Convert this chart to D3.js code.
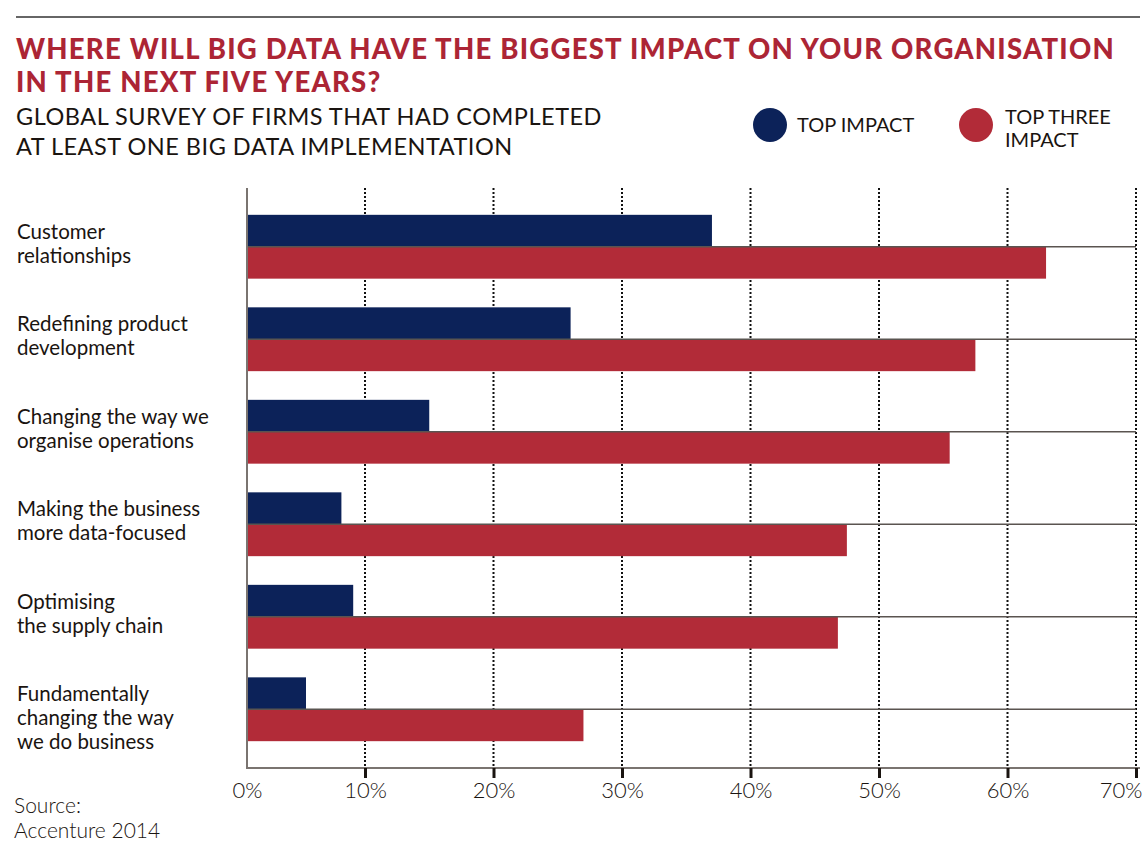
<!DOCTYPE html>
<html><head><meta charset="utf-8">
<script src="https://cdn.jsdelivr.net/npm/d3@7"></script>
<style>
html,body{margin:0;padding:0;background:#fff;}
svg{display:block;}
text{font-family:Lato,"Open Sans",sans-serif;}
</style></head>
<body>
<svg id="chart" width="1143" height="851"></svg>
<script>
const categories = [
  ["Customer", "relationships"],
  ["Redefining product", "development"],
  ["Changing the way we", "organise operations"],
  ["Making the business", "more data-focused"],
  ["Optimising", "the supply chain"],
  ["Fundamentally", "changing the way", "we do business"]
];
const topImpact = [37, 26, 15, 8, 9, 5];
const topThreeImpact = [63, 57.5, 55.5, 47.5, 46.8, 27];
const tickValues = [0, 10, 20, 30, 40, 50, 60, 70];
const seriesNames = ["TOP IMPACT", ["TOP THREE", "IMPACT"]];
const titleLines = ["WHERE WILL BIG DATA HAVE THE BIGGEST IMPACT ON YOUR ORGANISATION", "IN THE NEXT FIVE YEARS?"];
const subtitleLines = ["GLOBAL SURVEY OF FIRMS THAT HAD COMPLETED", "AT LEAST ONE BIG DATA IMPLEMENTATION"];
const sourceLines = ["Source:", "Accenture 2014"];

const BLUE = "#0c2259", RED = "#b22b38", TITLE_RED = "#ac2535", INK = "#1a1410";
const svg = d3.select("#chart");

// top rule
svg.append("line").attr("x1", 16).attr("x2", 1140).attr("y1", 17).attr("y2", 17)
  .attr("stroke", "#333").attr("stroke-width", 1.5);

// letter-spacing so that a line fills the given width
function spacingFor(sel, width) {
  const w = sel.node().getComputedTextLength();
  const n = sel.text().length;
  return (width - w) / n;
}

// title
const t1 = svg.append("text").attr("x", 16).attr("y", 59).attr("font-size", 27.5)
  .attr("font-weight", 900).attr("fill", TITLE_RED).text(titleLines[0]);
const tls = spacingFor(t1, 1099);
t1.attr("letter-spacing", tls);
svg.append("text").attr("x", 16).attr("y", 92).attr("font-size", 27.5)
  .attr("font-weight", 900).attr("fill", TITLE_RED).attr("letter-spacing", tls).text(titleLines[1]);

// subtitle
const s1 = svg.append("text").attr("x", 16).attr("y", 125).attr("font-size", 23.5)
  .attr("fill", INK).text(subtitleLines[0]);
const sls = spacingFor(s1, 586);
s1.attr("letter-spacing", sls);
svg.append("text").attr("x", 16).attr("y", 155).attr("font-size", 23.5)
  .attr("fill", INK).attr("letter-spacing", sls).text(subtitleLines[1]);

// legend
const lg = svg.append("g");
lg.append("circle").attr("cx", 770).attr("cy", 125).attr("r", 17).attr("fill", BLUE);
lg.append("text").attr("x", 797).attr("y", 132).attr("font-size", 20).attr("fill", INK).text(seriesNames[0]);
lg.append("circle").attr("cx", 976).attr("cy", 125).attr("r", 17).attr("fill", RED);
lg.append("text").attr("x", 1005).attr("y", 124).attr("font-size", 20).attr("fill", INK).text(seriesNames[1][0]);
lg.append("text").attr("x", 1005).attr("y", 147).attr("font-size", 20).attr("fill", INK).text(seriesNames[1][1]);

// scales
const x = d3.scaleLinear().domain([0, 10, 70]).range([247, 365, 1136]);
const y = d3.scaleBand().domain(d3.range(categories.length)).range([188, 768])
  .paddingInner(0.31).paddingOuter(0.29);
const half = y.bandwidth() / 2;

// gridlines
svg.append("g").selectAll("line").data(tickValues.filter(d => d > 0)).join("line")
  .attr("x1", d => x(d)).attr("x2", d => x(d)).attr("y1", 188).attr("y2", 768)
  .attr("stroke", "#111").attr("stroke-width", 2).attr("stroke-dasharray", "2,2");

// bars
const g = svg.append("g");
g.selectAll("rect.top").data(topImpact).join("rect").attr("class", "top")
  .attr("x", x(0)).attr("y", (d, i) => y(i)).attr("width", d => x(d) - x(0))
  .attr("height", half).attr("fill", BLUE);
g.selectAll("rect.three").data(topThreeImpact).join("rect").attr("class", "three")
  .attr("x", x(0)).attr("y", (d, i) => y(i) + half).attr("width", d => x(d) - x(0))
  .attr("height", half).attr("fill", RED);

// separator lines
svg.append("g").selectAll("line").data(categories).join("line")
  .attr("x1", x(0)).attr("x2", x(70)).attr("y1", (d, i) => y(i) + half).attr("y2", (d, i) => y(i) + half)
  .attr("stroke", "#5a5450").attr("stroke-width", 1.5);

// axes lines
svg.append("line").attr("x1", x(0)).attr("x2", x(0)).attr("y1", 188).attr("y2", 769)
  .attr("stroke", "#7a7470").attr("stroke-width", 2);
const xAxis = d3.axisBottom(x).tickValues(tickValues).tickFormat(d => d + "%").tickSize(10).tickPadding(4);
const ax = svg.append("g").attr("transform", "translate(0,768)").call(xAxis);
ax.select(".domain").attr("d", `M${x(0)},0H1140`).attr("stroke", "#7a7470").attr("stroke-width", 2);
ax.selectAll(".tick line").attr("stroke", "#1a1410").attr("stroke-width", 3)
  .style("display", d => d === 0 ? "none" : null);
ax.selectAll(".tick text").attr("font-family", "Lato, sans-serif").attr("font-size", 22)
  .attr("font-weight", 300).attr("fill", INK)
  .attr("text-anchor", d => d === 70 ? "end" : "middle")
  .attr("dx", d => d === 70 ? 1142 - x(70) : 0);

// category labels
const cl = svg.append("g");
categories.forEach((lines, i) => {
  const t = cl.append("text").attr("x", 17).attr("y", y(i) + 24).attr("font-size", 20.5).attr("fill", INK);
  lines.forEach((ln, j) => t.append("tspan").attr("x", 17).attr("dy", j === 0 ? 0 : 24).text(ln));
});

// source
const src = svg.append("text").attr("x", 14).attr("y", 813).attr("font-size", 21).attr("font-weight", 300).attr("fill", INK);
sourceLines.forEach((ln, j) => src.append("tspan").attr("x", 14).attr("dy", j === 0 ? 0 : 25).text(ln));
</script>
</body></html>
